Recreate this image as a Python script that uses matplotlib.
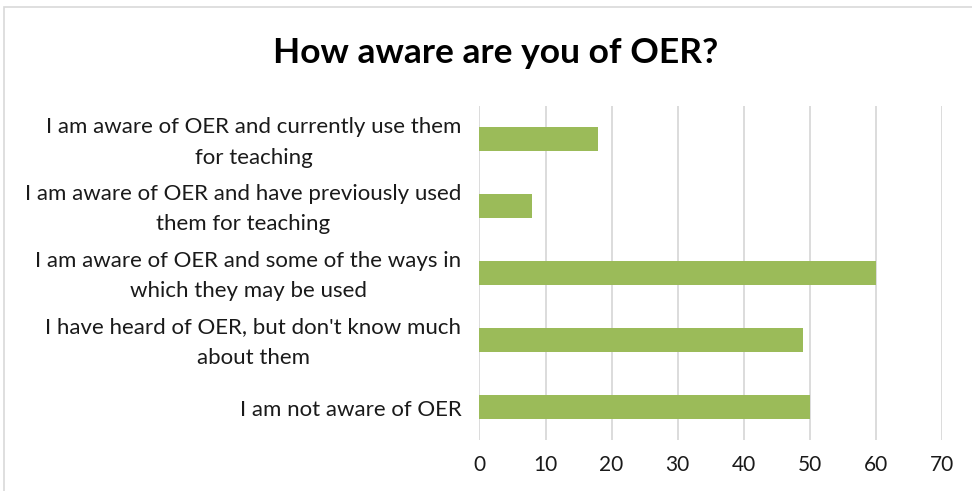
import numpy as np
import matplotlib.pyplot as plt
from matplotlib.patches import Rectangle
from matplotlib.transforms import ScaledTranslation

# data, top to bottom as shown
labels = [
    "I am aware of OER and currently use them\nfor teaching",
    "I am aware of OER and have previously used\nthem for teaching",
    "I am aware of OER and some of the ways in\nwhich they may be used",
    "I have heard of OER, but don't know much\nabout them",
    "I am not aware of OER",
]
values = [18, 8, 60, 49, 50]
xticks = [0, 10, 20, 30, 40, 50, 60, 70]

plt.rcParams['font.family'] = ['Lato', 'DejaVu Sans']

fig = plt.figure(figsize=(9.72, 4.91), dpi=100)
ax = fig.add_axes([0.4933, 0.1039, 0.4755, 0.6802])

y = np.arange(len(labels))
ax.barh(y, values, height=0.36, color='#9BBB59', zorder=3)
ax.set_ylim(len(labels) - 0.5, -0.5)
ax.set_xlim(0, 70)
ax.set_xticks(xticks)
ax.set_yticks(y)
ax.set_yticklabels([])
ax.tick_params(axis='y', length=0)
ax.tick_params(axis='x', length=0, pad=11, labelsize=15, labelcolor='#1a1a1a')
ax.grid(axis='x', color='#D9D9D9', linewidth=1.3, zorder=0)
for s in ax.spines.values():
    s.set_visible(False)

# category labels, right-aligned beside the bars
shift = ax.get_yaxis_transform() + ScaledTranslation(-18 / 100, -3 / 100, fig.dpi_scale_trans)
for yi, lab in zip(y, labels):
    ax.text(0, yi, lab, transform=shift, ha='right', va='center',
            multialignment='center', linespacing=1.65, fontsize=16, color='#1a1a1a')

fig.text(0.51, 0.893, "How aware are you of OER?", ha='center', va='center',
         fontsize=25.5, fontweight='bold', color='black')

# outer chart border
fig.patches.append(Rectangle((4 / 972, -0.1), 1.2, 1.1 - 7 / 491,
                             transform=fig.transFigure, fill=False,
                             edgecolor='#D9D9D9', linewidth=1.2))

fig.savefig('out.png', dpi=100)
